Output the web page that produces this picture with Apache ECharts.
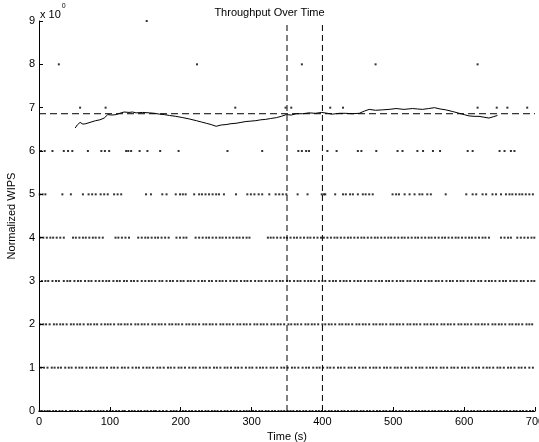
<!DOCTYPE html>
<html>
<head>
<meta charset="utf-8">
<script src="https://cdn.jsdelivr.net/npm/echarts@6/dist/echarts.min.js"></script>
<style>html,body{margin:0;padding:0;background:#fff}#c{width:539px;height:442px}</style>
</head>
<body>
<div id="c"></div>
<script>
// ---- data ----
var xTicks = [0, 100, 200, 300, 400, 500, 600, 700];
var yTicks = [0, 1, 2, 3, 4, 5, 6, 7, 8, 9];
var titleText = 'Throughput Over Time';
var xName = 'Time (s)';
var yName = 'Normalized WIPS';

// time stamps of samples at each WIPS level
var level0 = [1,4,8,12,15,20,24,29,33,38,44,47,51,55,60,66,70,73,78,83,87,91,96,100,104,109,113,118,121,127,131,135,140,144,149,153,158,162,165,170,175,180,186,190,194,199,203,207,212,216,221,226,230,235,239,244,248,252,257,262,266,271,275,279,284,289,293,297,302,306,311,315,320,324,329,333,338,342,346,351,355,359,364,368,373,377,382,386,391,395,399,404,409,413,418,422,427,431,436,441,445,449,454,458,463,467,472,477,481,486,490,495,499,504,509,513,518,522,527,532,536,541,545,550,555,559,564,568,573,577,582,587,591,596,600,605,610,614,619,623,628,633,637,642,646,651,656,660,665,670,674,679,683,688,693,697];
var level1 = [3,7,12,18,22,27,31,37,42,46,52,57,61,67,72,76,81,87,91,96,102,106,111,117,121,126,132,137,141,147,152,156,161,167,171,176,182,186,191,197,201,206,212,217,221,227,232,236,241,247,251,256,262,266,271,277,281,286,292,297,301,307,312,316,321,327,331,336,342,346,351,357,361,366,372,377,381,387,392,396,401,407,411,416,422,426,431,437,441,446,452,457,461,467,472,476,481,487,491,496,502,506,511,517,521,526,532,537,541,547,552,556,561,567,571,576,582,586,591,597,601,606,612,617,621,627,632,636,641,647,651,656,662,666,671,677,681,686,692,697];
var level2 = [2,6,10,15,21,25,30,34,39,45,49,54,58,63,69,73,78,82,88,93,97,101,106,112,116,121,125,130,136,140,145,149,154,160,164,169,173,178,184,188,193,197,202,208,212,217,221,226,232,236,241,245,250,256,260,265,269,274,280,284,289,293,298,304,308,313,317,322,328,332,337,341,346,352,356,361,365,370,376,380,385,389,394,400,404,409,413,418,424,428,433,437,442,448,452,457,461,466,472,476,481,485,490,496,500,505,509,514,520,524,529,533,538,544,548,553,557,562,568,572,577,581,586,592,596,601,605,610,616,620,625,629,634,640,644,649,653,658,664,668,673,677,682,688,692,696];
var level3 = [4,9,13,19,24,28,35,40,44,50,55,59,65,70,74,80,85,90,95,99,105,110,114,120,124,130,134,139,145,150,155,159,164,170,174,180,185,189,195,200,204,210,214,219,225,230,234,240,244,250,255,259,264,270,275,279,285,290,294,299,305,310,314,320,325,329,335,340,344,350,354,360,365,369,375,380,384,389,395,400,404,410,415,419,425,430,434,439,445,450,454,460,465,469,475,480,484,490,494,499,505,510,514,520,524,530,535,539,545,550,554,560,564,569,575,580,584,590,595,599,605,610,614,620,624,630,635,639,644,650,655,659,665,670,674,680,684,690,695,699];
var level4 = [2,6,11,16,20,25,30,35,48,52,57,62,66,71,76,80,85,90,108,112,117,122,127,140,145,150,154,159,164,168,173,178,183,194,199,204,208,221,226,231,236,240,245,250,255,259,264,269,274,279,283,288,293,297,323,327,331,336,341,346,350,355,360,364,369,374,379,383,388,393,398,402,407,412,417,421,426,431,436,440,445,450,455,459,464,469,474,478,483,488,493,497,502,507,512,516,521,526,531,535,540,545,550,554,559,564,569,573,578,583,588,592,597,602,607,611,616,621,626,630,635,652,657,662,666,675,680,685,690,695,699];
var level5 = [1,5,9,33,45,62,70,75,80,87,92,97,106,111,116,151,158,174,180,193,199,203,207,219,226,230,235,240,245,250,254,261,278,294,299,304,310,315,325,334,339,344,349,365,379,399,402,404,418,429,433,439,443,450,457,461,466,471,499,504,508,516,523,530,537,541,548,553,574,603,612,617,626,631,640,645,652,659,664,668,673,678,682,687,692,697];
var level6 = [3,8,19,35,41,47,69,88,93,99,123,126,130,142,153,171,197,266,315,366,371,377,381,407,420,450,455,476,506,513,534,542,556,566,605,612,650,657,666,671];
var level7 = [58,94,277,348,356,411,429,619,646,661,689];
var level8 = [28,223,371,475,619];
var level9 = [152];

// running throughput curve: [time, value]
var avgLine = [[51,6.53],[54,6.60],[58,6.66],[62,6.62],[66,6.63],[72,6.66],[80,6.70],[86,6.72],[92,6.76],[97,6.84],[103,6.83],[109,6.84],[114,6.87],[120,6.90],[127,6.89],[132,6.90],[137,6.88],[146,6.89],[156,6.88],[163,6.87],[170,6.85],[177,6.84],[184,6.82],[193,6.80],[203,6.77],[212,6.74],[222,6.70],[229,6.67],[236,6.64],[243,6.61],[250,6.57],[257,6.60],[264,6.61],[271,6.63],[278,6.64],[285,6.66],[292,6.68],[299,6.69],[306,6.70],[313,6.72],[320,6.73],[327,6.75],[335,6.77],[342,6.80],[349,6.84],[356,6.83],[363,6.86],[372,6.86],[381,6.88],[390,6.87],[399,6.89],[407,6.87],[414,6.85],[424,6.87],[433,6.87],[442,6.86],[452,6.87],[459,6.92],[466,6.96],[475,6.94],[485,6.95],[494,6.96],[504,6.98],[515,6.96],[527,6.98],[534,6.97],[541,6.96],[550,6.98],[558,7.00],[566,6.97],[574,6.95],[584,6.91],[593,6.87],[600,6.84],[607,6.81],[614,6.80],[621,6.80],[628,6.78],[635,6.76],[641,6.79],[647,6.82]];

var meanValue = 6.86;
var windowStart = 350;
var windowEnd = 400;

// ---- build chart ----
var levels = [level0, level1, level2, level3, level4, level5, level6, level7, level8, level9];
var scatterData = [];
levels.forEach(function (arr, lv) {
  arr.forEach(function (t) { scatterData.push([t, lv]); });
});

var FONT = 'Liberation Sans, Arial, Helvetica, sans-serif';
var xMin = xTicks[0], xMax = xTicks[xTicks.length - 1];
var yMin = yTicks[0], yMax = yTicks[yTicks.length - 1];

var chart = echarts.init(document.getElementById('c'), null, {renderer: 'canvas'});
chart.setOption({
  animation: false,
  backgroundColor: '#ffffff',
  title: {
    text: titleText, left: 'center', top: 2,
    textStyle: {fontFamily: FONT, fontSize: 11, fontWeight: 'normal', color: '#000'}
  },
  graphic: [{
    type: 'text', left: 40, top: 3,
    style: {
      text: '{a|x 10}{b|0}',
      rich: {
        a: {fontFamily: FONT, fontSize: 11, fill: '#000', padding: [6, 0, 0, 0]},
        b: {fontFamily: FONT, fontSize: 7, fill: '#000', verticalAlign: 'top', padding: [0, 0, 0, 1]}
      }
    }
  }],
  grid: {left: 39, right: 4, top: 21, bottom: 31, containLabel: false, outerBoundsMode: 'none'},
  xAxis: {
    type: 'value', min: xMin, max: xMax, interval: 100,
    name: xName, nameLocation: 'middle', nameGap: 17,
    nameTextStyle: {fontFamily: FONT, fontSize: 11, color: '#000'},
    axisLine: {show: true, onZero: false, lineStyle: {color: '#000', width: 1}},
    axisTick: {show: true, inside: true, length: 4, lineStyle: {color: '#000'}},
    axisLabel: {fontFamily: FONT, fontSize: 11, color: '#000', margin: 5},
    splitLine: {show: false}
  },
  yAxis: {
    type: 'value', min: yMin, max: yMax, interval: 1,
    name: yName, nameLocation: 'middle', nameGap: 22, nameRotate: 90,
    nameTextStyle: {fontFamily: FONT, fontSize: 11, color: '#000'},
    axisLine: {show: true, onZero: false, lineStyle: {color: '#000', width: 1}},
    axisTick: {show: true, inside: true, length: 4, lineStyle: {color: '#000'}},
    axisLabel: {fontFamily: FONT, fontSize: 11, color: '#000', margin: 4},
    splitLine: {show: false}
  },
  series: [
    {
      type: 'scatter', data: scatterData, symbol: 'rect', symbolSize: 2,
      itemStyle: {color: '#000'}, silent: true
    },
    {
      type: 'line', data: avgLine, showSymbol: false, symbol: 'none',
      lineStyle: {color: '#000', width: 1}, silent: true
    },
    {
      type: 'line', data: [[xMin, meanValue], [xMax, meanValue]], symbol: 'none',
      lineStyle: {color: '#000', width: 1, type: [7, 4]}, silent: true
    },
    {
      type: 'line', data: [[windowStart, yMin], [windowStart, yMax]], symbol: 'none',
      lineStyle: {color: '#000', width: 1, type: [6, 4]}, silent: true
    },
    {
      type: 'line', data: [[windowEnd, yMin], [windowEnd, yMax]], symbol: 'none',
      lineStyle: {color: '#000', width: 1, type: [6, 4]}, silent: true
    }
  ]
});
</script>
</body>
</html>
